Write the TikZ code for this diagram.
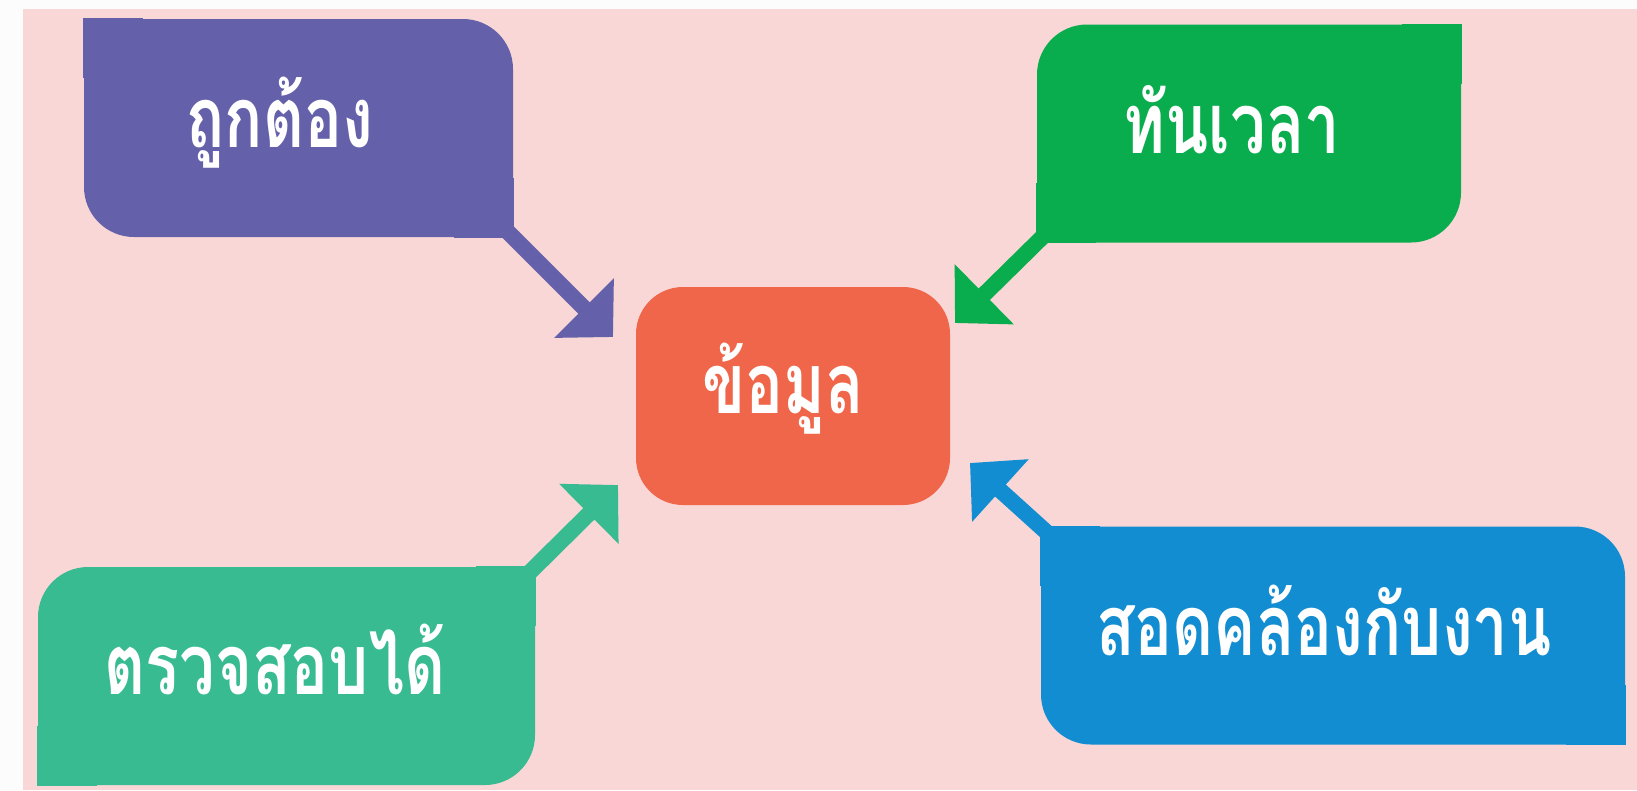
\documentclass[tikz,border=0pt]{standalone}
\usepackage{fontspec}
\newfontfamily\thaifont[Script=Thai,FakeStretch=0.75]{Loma}
\usetikzlibrary{arrows.meta}
\definecolor{bgpink}{HTML}{F9D7D6}
\definecolor{purp}{HTML}{6460AA}
\definecolor{grn}{HTML}{0AAD4D}
\definecolor{orng}{HTML}{F0664A}
\definecolor{tealc}{HTML}{39BB92}
\definecolor{blu}{HTML}{128DD1}

\begin{document}
\begin{tikzpicture}[
  box/.style={rectangle,inner sep=0pt,rounded corners=5mm,minimum height=2.18cm},
  lbl/.style={text=white,inner sep=0pt,anchor=base,font=\thaifont\bfseries\fontsize{24}{28}\selectfont},
  arr/.style={line width=1.6mm,-{Triangle[length=4.1mm,width=8.2mm]}}
]
\useasboundingbox (0,0) rectangle (16.37,-7.90);
\fill[white!99!black] (0,0) rectangle (16.37,-7.90);
\fill[bgpink] (0.23,-0.09) rectangle (16.37,-7.90);

\node[box,fill=purp,minimum width=4.29cm] (acc) at (2.985,-1.28) {};
\fill[purp] (acc.north west) rectangle +(0.6,-0.6);
\fill[purp] (acc.south east) rectangle +(-0.6,0.6);
\node[box,fill=grn,minimum width=4.24cm] (time) at (12.49,-1.335) {};
\fill[grn] (time.north east) rectangle +(-0.6,-0.6);
\fill[grn] (time.south west) rectangle +(0.6,0.6);
\node[box,fill=tealc,minimum width=4.97cm] (check) at (2.865,-6.76) {};
\fill[tealc] (check.north east) rectangle +(-0.6,-0.6);
\fill[tealc] (check.south west) rectangle +(0.6,0.6);
\node[box,fill=blu,minimum width=5.84cm] (fit) at (13.33,-6.355) {};
\fill[blu] (fit.north west) rectangle +(0.6,-0.6);
\fill[blu] (fit.south east) rectangle +(-0.6,0.6);
\node[box,fill=orng,rounded corners=4.7mm,minimum width=3.14cm] (data) at (7.93,-3.96) {};

\node[lbl] (accT) at (2.80,-1.47) {ถูกต้อง};
\node[lbl] (timeT) at (12.32,-1.53) {ทันเวลา};
\node[lbl] (dataT) at (7.83,-4.13) {ข้อมูล};
\node[lbl] (checkT) at (2.75,-6.94) {ตรวจสอบได้};
\node[lbl] (fitT) at (13.24,-6.55) {สอดคล้องกับงาน};

\coordinate (tipAcc) at (6.13,-3.37);
\coordinate (tipTime) at (9.55,-3.23);
\coordinate (tipCheck) at (6.18,-4.85);
\coordinate (tipFit) at (9.70,-4.63);
\draw[arr,purp] ([shift={(-0.08,0.08)}]acc.south east) -- (tipAcc);
\draw[arr,grn] ([shift={(0.08,0.08)}]time.south west) -- (tipTime);
\draw[arr,tealc] ([shift={(-0.08,-0.08)}]check.north east) -- (tipCheck);
\draw[arr,blu] ([shift={(0.08,-0.08)}]fit.north west) -- (tipFit);
\end{tikzpicture}
\end{document}
